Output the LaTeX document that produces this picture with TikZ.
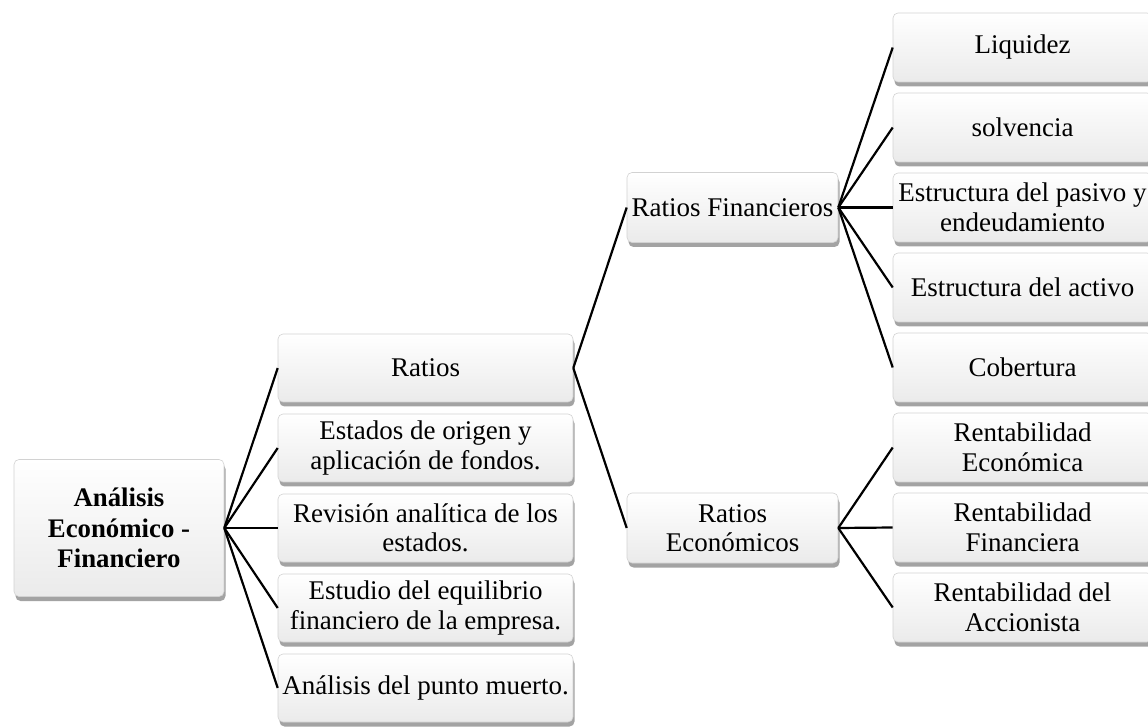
\documentclass[tikz,border=0pt]{standalone}
\usepackage{fontspec}
\setmainfont{Liberation Serif}
\usetikzlibrary{shadows}

\tikzset{
  caja/.style={draw=gray!35, line width=0.6pt, rounded corners=5pt,
    top color=white, bottom color=gray!16, align=center, inner sep=2pt,
    font=\fontsize{27}{29.5}\selectfont,
    drop shadow={shadow xshift=1.5pt, shadow yshift=-4.5pt, fill=gray!80, opacity=0.9}},
  raiz/.style={caja, minimum width=210pt, minimum height=137pt,
    font=\bfseries\fontsize{26.8}{30.5}\selectfont},
  nivuno/.style={caja, minimum width=295pt, minimum height=68pt},
  nivdos/.style={caja, minimum width=211pt, minimum height=70pt},
  nivtres/.style={caja, minimum width=259pt, minimum height=69pt},
  rama/.style={line width=2.2pt}
}

\begin{document}
\begin{tikzpicture}[x=1pt,y=1pt]
        \useasboundingbox (0,0) rectangle (1148,726);

        % Nodo principale
        \node[raiz] (analisis) at (119,198) {An\'alisis\\Econ\'omico -\\Financiero};

        % Primo livello
        \node[nivuno] (ratios)    at (425.5,358) {Ratios};
        \node[nivuno] (estados)   at (425.5,278) {Estados de origen y\\aplicaci\'on de fondos.};
        \node[nivuno] (revision)  at (425.5,198) {Revisi\'on anal\'itica de los\\estados.};
        \node[nivuno] (estudio)   at (425.5,118) {Estudio del equilibrio\\financiero de la empresa.};
        \node[nivuno] (puntomuerto) at (425.5,38) {An\'alisis del punto muerto.};

        % Secondo livello
        \node[nivdos] (financieros) at (732.5,518.5) {Ratios Financieros};
        \node[nivdos] (economicos)  at (732.5,198) {Ratios\\Econ\'omicos};

        % Terzo livello
        \node[nivtres] (liquidez)   at (1022.5,678.5) {Liquidez};
        \node[nivtres] (solvencia)  at (1022.5,598.5) {solvencia};
        \node[nivtres] (pasivo)     at (1022.5,518.5) {Estructura del pasivo y\\endeudamiento};
        \node[nivtres] (activo)     at (1022.5,438.5) {Estructura del activo};
        \node[nivtres] (cobertura)  at (1022.5,358.5) {Cobertura};
        \node[nivtres] (reconomica) at (1022.5,278.5) {Rentabilidad\\Econ\'omica};
        \node[nivtres] (rfinanciera) at (1022.5,198.5) {Rentabilidad\\Financiera};
        \node[nivtres] (raccionista) at (1022.5,118.5) {Rentabilidad del\\Accionista};

        % Collegamenti
        \foreach \n in {ratios,estados,revision,estudio,puntomuerto}
            \draw[rama] (analisis.east) -- (\n.west);
        \draw[rama] (ratios.east) -- (financieros.west);
        \draw[rama] (ratios.east) -- (economicos.west);
        \foreach \n in {liquidez,solvencia,pasivo,activo,cobertura}
            \draw[rama] (financieros.east) -- (\n.west);
        \foreach \n in {reconomica,rfinanciera,raccionista}
            \draw[rama] (economicos.east) -- (\n.west);

    \end{tikzpicture}
\end{document}
